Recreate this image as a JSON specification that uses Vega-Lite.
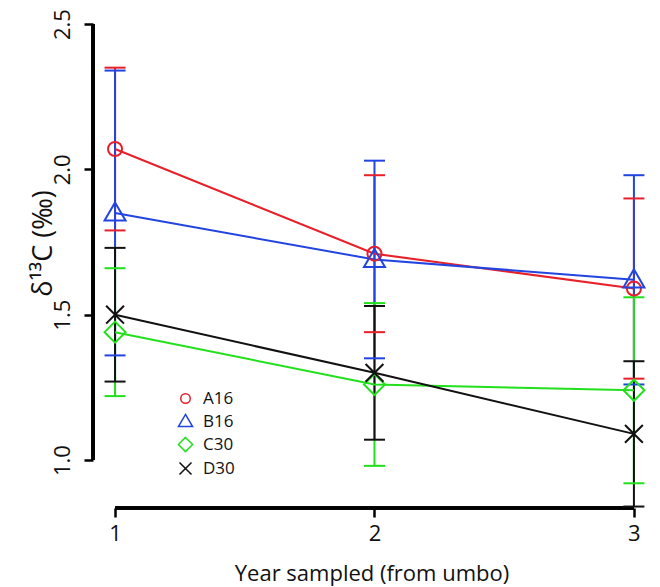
{
  "$schema": "https://vega.github.io/schema/vega-lite/v6.json",
  "width": 557,
  "height": 488,
  "autosize": {"type": "none"},
  "padding": {"left": 93, "top": 20, "right": 10, "bottom": 79},
  "config": {
    "view": {"stroke": null},
    "font": "Open Sans"
  },
  "data": {
    "values": [
      {"series": "A16", "year": 1, "mean": 2.07, "lo": 1.79, "hi": 2.35},
      {"series": "B16", "year": 1, "mean": 1.85, "lo": 1.36, "hi": 2.34},
      {"series": "C30", "year": 1, "mean": 1.44, "lo": 1.22, "hi": 1.66},
      {"series": "D30", "year": 1, "mean": 1.5, "lo": 1.27, "hi": 1.73},
      {"series": "A16", "year": 2, "mean": 1.71, "lo": 1.44, "hi": 1.98},
      {"series": "B16", "year": 2, "mean": 1.69, "lo": 1.35, "hi": 2.03},
      {"series": "C30", "year": 2, "mean": 1.26, "lo": 0.98, "hi": 1.54},
      {"series": "D30", "year": 2, "mean": 1.3, "lo": 1.07, "hi": 1.53},
      {"series": "A16", "year": 3, "mean": 1.59, "lo": 1.28, "hi": 1.9},
      {"series": "B16", "year": 3, "mean": 1.62, "lo": 1.26, "hi": 1.98},
      {"series": "C30", "year": 3, "mean": 1.24, "lo": 0.92, "hi": 1.56},
      {"series": "D30", "year": 3, "mean": 1.09, "lo": 0.84, "hi": 1.34}
    ]
  },
  "encoding": {
    "x": {
      "field": "year",
      "type": "quantitative",
      "scale": {"domain": [0.915, 3.062], "nice": false, "zero": false},
      "axis": {
        "values": [1, 2, 3],
        "format": "d",
        "domain": false,
        "grid": false,
        "tickSize": 9,
        "tickWidth": 2.5,
        "tickColor": "black",
        "labelFontSize": 22,
        "labelColor": "#111111",
        "labelPadding": 6,
        "title": "Year sampled (from umbo)",
        "titleFontSize": 22,
        "titleFontWeight": "normal",
        "titleColor": "#111111",
        "titleBaseline": "alphabetic",
        "titleY": 72
      }
    },
    "y": {
      "field": "mean",
      "type": "quantitative",
      "scale": {"domain": [0.835, 2.514], "nice": false, "zero": false},
      "axis": {
        "values": [1, 1.5, 2, 2.5],
        "format": ".1f",
        "domain": false,
        "grid": false,
        "tickSize": 9,
        "tickWidth": 2.5,
        "tickColor": "black",
        "labelFontSize": 22,
        "labelColor": "#111111",
        "labelAngle": 270,
        "labelPadding": 10,
        "title": "δ¹³C (‰)",
        "titleFontSize": 27,
        "titleFontWeight": "normal",
        "titleColor": "#111111",
        "titleAngle": 270,
        "titleBaseline": "alphabetic",
        "titleAlign": "center",
        "titleX": -42,
        "titleY": 223
      }
    },
    "color": {
      "field": "series",
      "type": "nominal",
      "scale": {"domain": ["A16", "B16", "C30", "D30"], "range": ["#e8202a", "#2244e0", "#22e01c", "#111111"]},
      "legend": {
        "orient": "none",
        "legendX": 84,
        "legendY": 370,
        "title": null,
        "padding": 0,
        "symbolSize": 200,
        "symbolStrokeWidth": 1.5,
        "labelFontSize": 17,
        "labelOffset": 9,
        "labelColor": "#111111",
        "rowPadding": 4,
        "encode": {
          "symbols": {
            "update": {
              "fill": {"value": "transparent"},
              "strokeWidth": {"value": 1.5}
            }
          }
        }
      }
    }
  },
  "layer": [
    {
      "mark": {"type": "rule", "strokeWidth": 2.5, "color": "black"},
      "encoding": {
        "x": {"datum": 0.915, "type": "quantitative"},
        "y": {"datum": 1, "type": "quantitative"},
        "y2": {"datum": 2.5},
        "color": {"value": "black"}
      }
    },
    {
      "mark": {"type": "rule", "strokeWidth": 2.5, "color": "black"},
      "encoding": {
        "y": {"datum": 0.835, "type": "quantitative"},
        "x": {"datum": 1, "type": "quantitative"},
        "x2": {"datum": 3},
        "color": {"value": "black"}
      }
    },
    {
      "mark": {"type": "rule", "strokeWidth": 2},
      "encoding": {
        "y": {"field": "lo", "type": "quantitative"},
        "y2": {"field": "hi"}
      }
    },
    {
      "mark": {"type": "rule", "strokeWidth": 2, "xOffset": -10.5, "x2Offset": 10.5},
      "encoding": {
        "x2": {"field": "year"},
        "y": {"field": "hi", "type": "quantitative"}
      }
    },
    {
      "mark": {"type": "rule", "strokeWidth": 2, "xOffset": -10.5, "x2Offset": 10.5},
      "encoding": {
        "x2": {"field": "year"},
        "y": {"field": "lo", "type": "quantitative"}
      }
    },
    {
      "mark": {"type": "line", "strokeWidth": 2},
      "encoding": {}
    },
    {
      "mark": {"type": "point", "filled": false, "strokeWidth": 2, "size": 441, "opacity": 1},
      "encoding": {
        "shape": {
          "field": "series",
          "type": "nominal",
          "scale": {
            "domain": ["A16", "B16", "C30", "D30"],
            "range": [
              "M0.67,0A0.67,0.67 0 1,1 -0.67,0A0.67,0.67 0 1,1 0.67,0Z",
              "M0,-1L1,0.72L-1,0.72Z",
              "M0,-1L1,0L0,1L-1,0Z",
              "M-0.85,-0.85L0.85,0.85M-0.85,0.85L0.85,-0.85"
            ]
          },
          "legend": {
            "orient": "none",
            "legendX": 84,
            "legendY": 370,
            "title": null,
            "padding": 0,
            "symbolSize": 200,
            "symbolStrokeWidth": 1.5,
            "labelFontSize": 17,
            "labelOffset": 9,
            "labelColor": "#111111",
            "rowPadding": 4,
            "encode": {
              "symbols": {
                "update": {
                  "fill": {"value": "transparent"},
                  "strokeWidth": {"value": 1.5}
                }
              }
            }
          }
        }
      }
    }
  ]
}
